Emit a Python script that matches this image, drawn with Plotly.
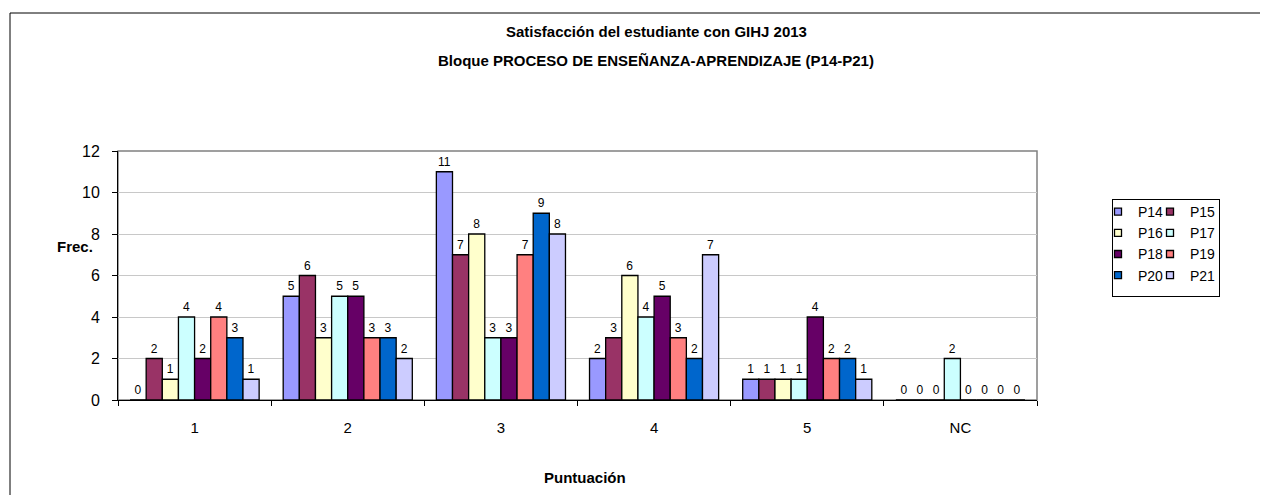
import plotly.graph_objects as go

categories = ["1", "2", "3", "4", "5", "NC"]
series_names = ["P14", "P15", "P16", "P17", "P18", "P19", "P20", "P21"]
values = {
    "P14": [0, 5, 11, 2, 1, 0],
    "P15": [2, 6, 7, 3, 1, 0],
    "P16": [1, 3, 8, 6, 1, 0],
    "P17": [4, 5, 3, 4, 1, 2],
    "P18": [2, 5, 3, 5, 4, 0],
    "P19": [4, 3, 7, 3, 2, 0],
    "P20": [3, 3, 9, 2, 2, 0],
    "P21": [1, 2, 8, 7, 1, 0],
}
colors = ["#9999FF", "#993366", "#FFFFCC", "#CCFFFF",
          "#660066", "#FF8080", "#0066CC", "#CCCCFF"]

font = "Arial, Liberation Sans, sans-serif"

# page has 8px body margin, so figure coords = page coords - 8
OFF = 8
W, H = 1268 - OFF, 495 - OFF
# plot area in page pixels
L, R, T, B = 118 - OFF, 1037 - OFF, 151 - OFF, 400 - OFF
PW, PH = R - L, B - T


def px(x):
    return (x - OFF - L) / PW


def py(y):
    return (B - (y - OFF)) / PH


fig = go.Figure()
for i, (name, col) in enumerate(zip(series_names, colors)):
    fig.add_trace(go.Bar(
        x=categories, y=values[name], name=name,
        marker=dict(color=col, line=dict(color="black", width=1.3)),
        text=values[name], textposition="outside",
        textfont=dict(size=12, color="black", family=font),
        constraintext="none", cliponaxis=False,
        showlegend=False,
    ))
    # small square legend key
    fig.add_trace(go.Scatter(
        x=[None], y=[None], mode="markers", name=name,
        marker=dict(symbol="square", size=7, color=col,
                    line=dict(color="black", width=1.3)),
        legend="legend" if i % 2 == 0 else "legend2",
    ))

leg_common = dict(
    orientation="v", yanchor="top", xanchor="left",
    bgcolor="rgba(255,255,255,0)", borderwidth=0,
    font=dict(size=14, family=font), itemwidth=30,
    tracegroupgap=0,
)

fig.update_layout(
    width=W, height=H,
    margin=dict(l=L, r=W - R, t=T, b=H - B, autoexpand=False),
    paper_bgcolor="white", plot_bgcolor="white",
    barmode="group", bargap=0.157, bargroupgap=0,
    font=dict(family=font, color="black"),
    showlegend=True,
    legend=dict(x=px(1098), y=py(196), **leg_common),
    legend2=dict(x=px(1150), y=py(196), **leg_common),
    xaxis=dict(
        showline=True, linecolor="black", linewidth=1,
        ticks="outside", tickson="boundaries", ticklen=5, tickcolor="black",
        tickfont=dict(size=15), ticklabelstandoff=14,
        showgrid=False,
    ),
    yaxis=dict(
        range=[0, 12], dtick=2,
        showline=True, linecolor="black", linewidth=1,
        ticks="outside", ticklen=5, tickcolor="black",
        tickfont=dict(size=16), ticklabelstandoff=9,
        showgrid=True, gridcolor="#C8C8C8", gridwidth=1,
        zeroline=False,
    ),
)

# plot area border (gray) and outer frame
fig.add_shape(type="rect", xref="paper", yref="paper", x0=0, x1=1, y0=0, y1=1,
              line=dict(color="#808080", width=1.5), layer="below")
fig.add_shape(type="rect", xref="paper", yref="paper",
              x0=px(10), x1=px(1300), y0=py(13), y1=py(520),
              line=dict(color="black", width=1))

# legend frame around both legend columns
fig.add_annotation(text=" ", xref="paper", yref="paper",
                   x=px(1166), y=py(248), xanchor="center", yanchor="middle",
                   width=106, height=96, borderpad=0,
                   bordercolor="black", borderwidth=1, showarrow=False)

fig.add_annotation(text="<b>Satisfacción del estudiante con GIHJ 2013</b>",
                   xref="paper", yref="paper", x=px(656), y=py(31),
                   showarrow=False, font=dict(size=15), xanchor="center", yanchor="middle")
fig.add_annotation(text="<b>Bloque PROCESO DE ENSEÑANZA-APRENDIZAJE (P14-P21)</b>",
                   xref="paper", yref="paper", x=px(656), y=py(61),
                   showarrow=False, font=dict(size=15), xanchor="center", yanchor="middle")
fig.add_annotation(text="<b>Frec.</b>", xref="paper", yref="paper",
                   x=px(75), y=py(246),
                   showarrow=False, font=dict(size=15), xanchor="center", yanchor="middle")
fig.add_annotation(text="<b>Puntuación</b>", xref="paper", yref="paper",
                   x=px(585), y=py(477),
                   showarrow=False, font=dict(size=15), xanchor="center", yanchor="middle")

fig.write_html("out.html")
